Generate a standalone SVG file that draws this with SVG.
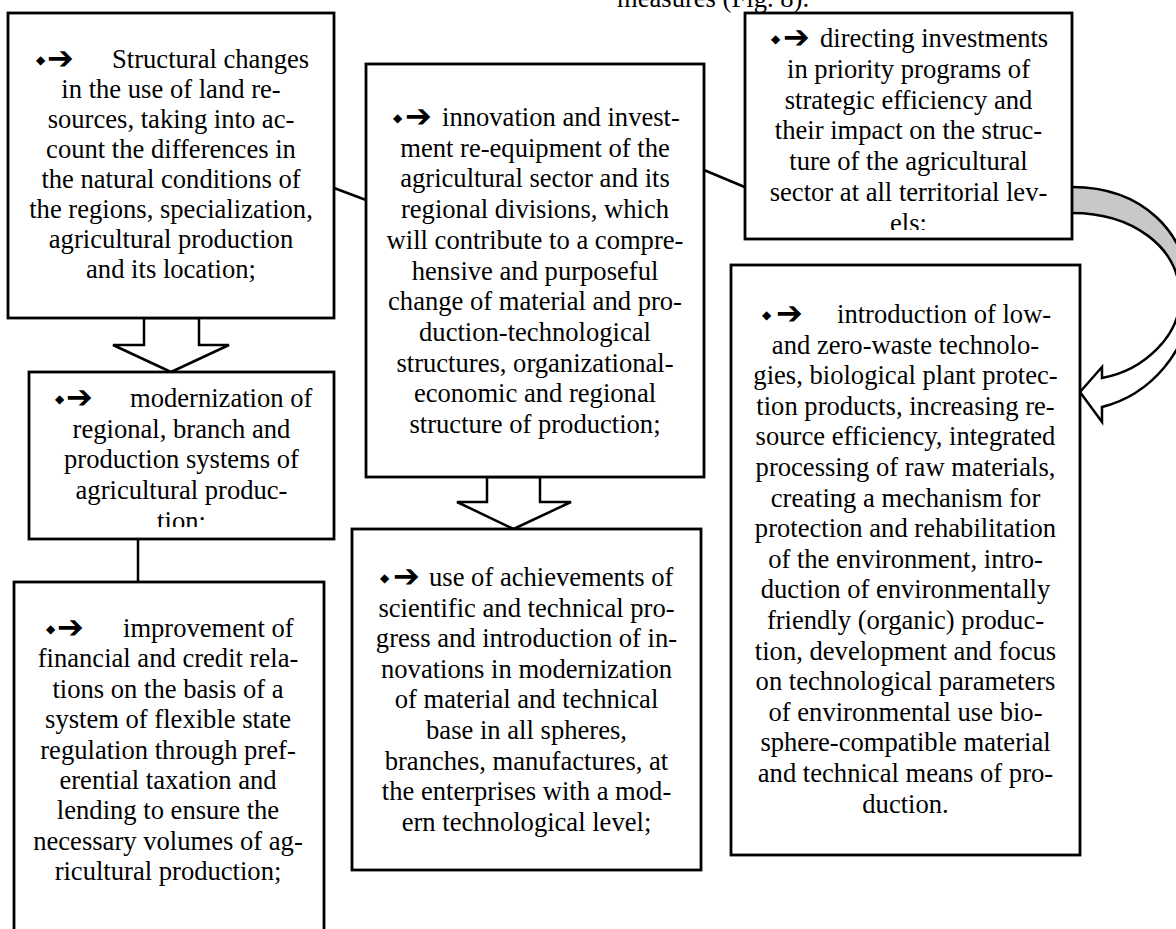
<svg xmlns="http://www.w3.org/2000/svg" width="1176" height="929" viewBox="0 0 1176 929">
<style>
.box{fill:#fff;stroke:#000;stroke-width:2.8}
.t{font-family:"Liberation Serif","Times New Roman",serif;font-size:26.6px;fill:#000;text-anchor:middle}
.s{text-anchor:start}
.dia{font-family:"DejaVu Sans",sans-serif;font-size:12px;fill:#000}
.arr{font-family:"DejaVu Sans",sans-serif;font-size:32px;font-weight:bold;fill:#000}
.ln{fill:none;stroke:#000;stroke-width:2.5}
.blk{fill:#fff;stroke:#000;stroke-width:2.5;stroke-linejoin:miter}
</style>
<defs>
<clipPath id="clipC"><rect x="745" y="13" width="327" height="217"/></clipPath>
<clipPath id="clipD"><rect x="29" y="372" width="305" height="155"/></clipPath>
</defs>
<rect width="1176" height="929" fill="#fff"/>
<text class="t s" x="617" y="7">measures (Fig. 8).</text>

<g id="connectors">
<line class="ln" x1="334" y1="188" x2="366" y2="200"/>
<line class="ln" x1="704" y1="170" x2="747" y2="188"/>
<line class="ln" x1="138" y1="539" x2="138" y2="582"/>
<polygon class="blk" points="144,318 144,345 113,345 171,372 229,345 199,345 199,318"/>
<polygon class="blk" points="487,477 487,502 457,502 513.5,529 571,502 540,502 540,477"/>
<g id="curved-arrow">
<path d="M1072,187 C1140,187 1190,230 1190,300 C1190,350 1150,395 1102,407 L1102,422 L1080,392 L1102,367 L1102,378 C1145,370 1180,335 1180,298 C1180,245 1130,213 1072,213 Z" fill="#fff" stroke="none"/>
<path d="M1072,187 C1140,187 1190,230 1190,300 L1180,298 C1180,245 1130,213 1072,213 Z" fill="#c8c8c8" stroke="none"/>
<path d="M1072,187 C1140,187 1190,230 1190,300 C1190,350 1150,395 1102,407 L1102,422 L1080,392 L1102,367 L1102,378 C1145,370 1180,335 1180,298 C1180,245 1130,213 1072,213" class="ln"/>
</g>
</g>

<g id="nodeA">
<rect class="box" x="8" y="13" width="326" height="305"/>
<text class="dia" x="36" y="64">◆</text><text class="arr" x="47" y="69">➔</text>
<text class="t s" x="112" y="68">Structural changes</text>
<text class="t" x="171" y="98">in the use of land re-</text>
<text class="t" x="171" y="128">sources, taking into ac-</text>
<text class="t" x="171" y="158">count the differences in</text>
<text class="t" x="171" y="188">the natural conditions of</text>
<text class="t" x="171" y="218">the regions, specialization,</text>
<text class="t" x="171" y="248">agricultural production</text>
<text class="t" x="171" y="278">and its location;</text>
</g>

<g id="nodeB">
<rect class="box" x="366" y="64" width="338" height="413"/>
<text class="dia" x="393" y="122">◆</text><text class="arr" x="405" y="127">➔</text>
<text class="t s" x="442" y="126">innovation and invest-</text>
<text class="t" x="535" y="156.7">ment re-equipment of the</text>
<text class="t" x="535" y="187.4">agricultural sector and its</text>
<text class="t" x="535" y="218.1">regional divisions, which</text>
<text class="t" x="535" y="248.8">will contribute to a compre-</text>
<text class="t" x="535" y="279.5">hensive and purposeful</text>
<text class="t" x="535" y="310.2">change of material and pro-</text>
<text class="t" x="535" y="340.9">duction-technological</text>
<text class="t" x="535" y="371.6">structures, organizational-</text>
<text class="t" x="535" y="402.3">economic and regional</text>
<text class="t" x="535" y="433">structure of production;</text>
</g>

<g id="nodeC">
<rect class="box" x="745" y="13" width="327" height="226"/>
<g clip-path="url(#clipC)">
<text class="dia" x="771" y="43">◆</text><text class="arr" x="783" y="48">➔</text>
<text class="t s" x="820" y="47">directing investments</text>
<text class="t" x="908.5" y="77.8">in priority programs of</text>
<text class="t" x="908.5" y="108.6">strategic efficiency and</text>
<text class="t" x="908.5" y="139.4">their impact on the struc-</text>
<text class="t" x="908.5" y="170.2">ture of the agricultural</text>
<text class="t" x="908.5" y="201">sector at all territorial lev-</text>
<text class="t" x="908.5" y="231.8">els:</text>
</g>
</g>

<g id="nodeD">
<rect class="box" x="29" y="372" width="305" height="167"/>
<g clip-path="url(#clipD)">
<text class="dia" x="55" y="403">◆</text><text class="arr" x="66" y="408">➔</text>
<text class="t s" x="130" y="407">modernization of</text>
<text class="t" x="181.5" y="437.7">regional, branch and</text>
<text class="t" x="181.5" y="468.4">production systems of</text>
<text class="t" x="181.5" y="499.1">agricultural produc-</text>
<text class="t" x="181.5" y="529.8">tion:</text>
</g>
</g>

<g id="nodeE">
<rect class="box" x="731" y="265" width="349" height="590"/>
<text class="dia" x="762" y="319">◆</text><text class="arr" x="776" y="324">➔</text>
<text class="t s" x="837" y="323">introduction of low-</text>
<text class="t" x="905.5" y="353.6">and zero-waste technolo-</text>
<text class="t" x="905.5" y="384.2">gies, biological plant protec-</text>
<text class="t" x="905.5" y="414.8">tion products, increasing re-</text>
<text class="t" x="905.5" y="445.4">source efficiency, integrated</text>
<text class="t" x="905.5" y="476">processing of raw materials,</text>
<text class="t" x="905.5" y="506.6">creating a mechanism for</text>
<text class="t" x="905.5" y="537.2">protection and rehabilitation</text>
<text class="t" x="905.5" y="567.8">of the environment, intro-</text>
<text class="t" x="905.5" y="598.4">duction of environmentally</text>
<text class="t" x="905.5" y="629">friendly (organic) produc-</text>
<text class="t" x="905.5" y="659.6">tion, development and focus</text>
<text class="t" x="905.5" y="690.2">on technological parameters</text>
<text class="t" x="905.5" y="720.8">of environmental use bio-</text>
<text class="t" x="905.5" y="751.4">sphere-compatible material</text>
<text class="t" x="905.5" y="782">and technical means of pro-</text>
<text class="t" x="905.5" y="812.6">duction.</text>
</g>

<g id="nodeF">
<rect class="box" x="14" y="582" width="310" height="362"/>
<text class="dia" x="46" y="633">◆</text><text class="arr" x="57" y="638">➔</text>
<text class="t s" x="123" y="637">improvement of</text>
<text class="t" x="168" y="667.4">financial and credit rela-</text>
<text class="t" x="168" y="697.8">tions on the basis of a</text>
<text class="t" x="168" y="728.2">system of flexible state</text>
<text class="t" x="168" y="758.6">regulation through pref-</text>
<text class="t" x="168" y="789">erential taxation and</text>
<text class="t" x="168" y="819.4">lending to ensure the</text>
<text class="t" x="168" y="849.8">necessary volumes of ag-</text>
<text class="t" x="168" y="880.2">ricultural production;</text>
</g>

<g id="nodeG">
<rect class="box" x="352" y="529" width="349" height="341"/>
<text class="dia" x="380" y="582">◆</text><text class="arr" x="393" y="587">➔</text>
<text class="t s" x="429" y="586">use of achievements of</text>
<text class="t" x="526.5" y="616.6">scientific and technical pro-</text>
<text class="t" x="526.5" y="647.2">gress and introduction of in-</text>
<text class="t" x="526.5" y="677.8">novations in modernization</text>
<text class="t" x="526.5" y="708.4">of material and technical</text>
<text class="t" x="526.5" y="739">base in all spheres,</text>
<text class="t" x="526.5" y="769.6">branches, manufactures, at</text>
<text class="t" x="526.5" y="800.2">the enterprises with a mod-</text>
<text class="t" x="526.5" y="830.8">ern technological level;</text>
</g>
</svg>
